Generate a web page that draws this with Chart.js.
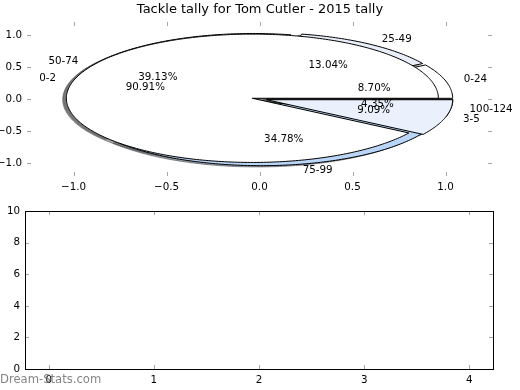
<!DOCTYPE html>
<html>
<head>
<meta charset="utf-8">
<script src="https://cdn.jsdelivr.net/npm/chart.js@4.4.1/dist/chart.umd.min.js"></script>
<style>
  body { margin: 0; background: #fff; }
  #wrap { position: relative; width: 520px; height: 390px; }
  #top { position: absolute; left: 0; top: 0; width: 520px; height: 200px; }
  #bottom { position: absolute; left: 0; top: 200px; width: 520px; height: 190px; }
</style>
</head>
<body>
<div id="wrap">
  <div id="top"><canvas id="pieChart"></canvas></div>
  <div id="bottom"><canvas id="emptyChart"></canvas></div>
</div>
<script>
const tackleLabels = ["0-24", "25-49", "50-74", "75-99", "100-124"];
const tackleValues = [2, 3, 9, 8, 1];
const tackleColors = ["#ffffff", "#e8effb", "#ffffff", "#b9d5f8", "#eaf1fc"];

const gameLabels = ["0-2", "3-5"];
const gameValues = [10, 1];
const gameColors = ["#ffffff", "#eaf1fc"];

const pieXTicks = [-1, -0.5, 0, 0.5, 1];
const pieYTicks = [-1, -0.5, 0, 0.5, 1];
const emptyXTicks = [0, 1, 2, 3, 4];
const emptyYTicks = [0, 2, 4, 6, 8, 10];

const FONT = "DejaVu Sans";
const explode = 0.04;

function fmt1(v) {
  return (v < 0 ? "\u2212" : "") + Math.abs(v).toFixed(1);
}

// split values into wedges, counter-clockwise from 0 degrees
function makeWedges(values, colors, labels) {
  const total = values.reduce((a, b) => a + b, 0);
  let start = 0;
  return values.map((v, i) => {
    const sweep = v / total * 360;
    const mid = (start + sweep / 2) * Math.PI / 180;
    const w = {
      t1: start, t2: start + sweep, mid: mid,
      cx: explode * Math.cos(mid), cy: explode * Math.sin(mid),
      color: colors[i], label: labels[i], pct: v / total * 100
    };
    start += sweep;
    return w;
  });
}

function wedgePath(ctx, xs, ys, w, dx, dy) {
  ctx.beginPath();
  ctx.moveTo(xs.getPixelForValue(w.cx + dx), ys.getPixelForValue(w.cy + dy));
  const n = Math.max(4, Math.ceil(w.t2 - w.t1));
  for (let k = 0; k <= n; k++) {
    const a = (w.t1 + (w.t2 - w.t1) * k / n) * Math.PI / 180;
    ctx.lineTo(xs.getPixelForValue(w.cx + dx + Math.cos(a)),
               ys.getPixelForValue(w.cy + dy + Math.sin(a)));
  }
  ctx.closePath();
}

function shadowColor(hex) {
  const r = parseInt(hex.slice(1, 3), 16), g = parseInt(hex.slice(3, 5), 16), b = parseInt(hex.slice(5, 7), 16);
  return "rgba(" + Math.round(r * 0.3) + "," + Math.round(g * 0.3) + "," + Math.round(b * 0.3) + ",0.5)";
}

const pies = [
  makeWedges(tackleValues, tackleColors, tackleLabels),
  makeWedges(gameValues, gameColors, gameLabels)
];

const piePlugin = {
  id: "pies",
  afterDatasetsDraw(chart) {
    const ctx = chart.ctx, xs = chart.scales.x, ys = chart.scales.y;
    ctx.save();
    ctx.lineWidth = 1;
    // shadows first
    pies.forEach(p => p.forEach(w => {
      wedgePath(ctx, xs, ys, w, -0.02, -0.02);
      ctx.fillStyle = shadowColor(w.color);
      ctx.strokeStyle = shadowColor(w.color);
      ctx.fill();
      ctx.stroke();
    }));
    pies.forEach(p => p.forEach(w => {
      wedgePath(ctx, xs, ys, w, 0, 0);
      ctx.fillStyle = w.color;
      ctx.strokeStyle = "#000";
      ctx.fill();
      ctx.stroke();
    }));
    ctx.font = "10.3px '" + FONT + "'";
    ctx.fillStyle = "#000";
    ctx.textBaseline = "middle";
    pies.forEach(p => p.forEach(w => {
      const lx = w.cx + 1.1 * Math.cos(w.mid), ly = w.cy + 1.1 * Math.sin(w.mid);
      ctx.textAlign = lx > 0 ? "left" : "right";
      ctx.fillText(w.label, xs.getPixelForValue(lx), ys.getPixelForValue(ly));
      const px = w.cx + 0.6 * Math.cos(w.mid), py = w.cy + 0.6 * Math.sin(w.mid);
      ctx.textAlign = "center";
      ctx.fillText(w.pct.toFixed(2) + "%", xs.getPixelForValue(px), ys.getPixelForValue(py));
    }));
    ctx.restore();
  }
};

// inward tick marks on all four sides, optional frame
const tickMarks = {
  id: "tickMarks",
  afterDraw(chart, args, opts) {
    const ctx = chart.ctx, a = chart.chartArea;
    const xs = chart.scales.x, ys = chart.scales.y;
    ctx.save();
    ctx.strokeStyle = "rgba(0,0,0,0.35)";
    ctx.lineWidth = 1;
    ctx.beginPath();
    xs.ticks.forEach(t => {
      const x = Math.round(xs.getPixelForValue(t.value)) + 0.5;
      ctx.moveTo(x, a.top); ctx.lineTo(x, a.top + 4);
      ctx.moveTo(x, a.bottom); ctx.lineTo(x, a.bottom - 4);
    });
    ys.ticks.forEach(t => {
      const y = Math.round(ys.getPixelForValue(t.value)) + 0.5;
      ctx.moveTo(a.left, y); ctx.lineTo(a.left + 4, y);
      ctx.moveTo(a.right, y); ctx.lineTo(a.right - 4, y);
    });
    ctx.stroke();
    if (opts.frame) {
      ctx.strokeStyle = "#000";
      ctx.strokeRect(Math.round(a.left) + 0.5, Math.round(a.top) + 0.5,
                     Math.round(a.right - a.left), Math.round(a.bottom - a.top));
    }
    if (opts.watermark) {
      ctx.font = "11.6px '" + FONT + "'";
      ctx.fillStyle = "rgba(110,110,110,0.85)";
      ctx.textAlign = "left";
      ctx.textBaseline = "middle";
      ctx.fillText(opts.watermark, 0, chart.height - 10);
    }
    ctx.restore();
  }
};

function axis(min, max, ticks, fmt, size, isX) {
  return {
    type: "linear", min: min, max: max,
    grid: { display: false, drawTicks: false },
    border: { display: false },
    ticks: { color: "#000", font: { family: FONT, size: 10.3 }, padding: 5, maxRotation: 0, callback: fmt },
    afterBuildTicks: s => { s.ticks = ticks.map(v => ({ value: v })); },
    afterFit: s => { if (isX) s.height = size; else s.width = size; }
  };
}

// empty right-hand axis that only reserves space, so the title centres over the plot
function spacer(size) {
  return {
    type: "linear", position: "right", min: 0, max: 1,
    grid: { display: false, drawTicks: false },
    border: { display: false },
    ticks: { display: false },
    afterFit: s => { s.width = size; }
  };
}

new Chart(document.getElementById("pieChart"), {
  type: "scatter",
  data: { datasets: [] },
  options: {
    responsive: true, maintainAspectRatio: false, animation: false,
    layout: { padding: 0 },
    plugins: {
      legend: { display: false }, tooltip: { enabled: false },
      title: {
        display: true, text: "Tackle tally for Tom Cutler - 2015 tally", color: "#000",
        font: { family: FONT, size: 13, weight: "normal", lineHeight: 1.2 },
        padding: { top: 2, bottom: 4.4 }
      },
      tickMarks: { frame: false }
    },
    scales: {
      x: axis(-1.25, 1.25, pieXTicks, v => fmt1(v), 24, true),
      y: axis(-1.2, 1.2, pieYTicks, v => fmt1(v), 27, false),
      yRight: spacer(28)
    }
  },
  plugins: [piePlugin, tickMarks]
});

new Chart(document.getElementById("emptyChart"), {
  type: "scatter",
  data: { datasets: [] },
  options: {
    responsive: true, maintainAspectRatio: false, animation: false,
    layout: { padding: { left: 0, right: 27, top: 10, bottom: 0 } },
    plugins: {
      legend: { display: false }, tooltip: { enabled: false },
      tickMarks: { frame: true, watermark: "Dream-Stats.com" }
    },
    scales: {
      x: axis(-0.225, 4.225, emptyXTicks, v => String(v), 21, true),
      y: axis(0, 10, emptyYTicks, v => String(v), 25, false)
    }
  },
  plugins: [tickMarks]
});
</script>
</body>
</html>
